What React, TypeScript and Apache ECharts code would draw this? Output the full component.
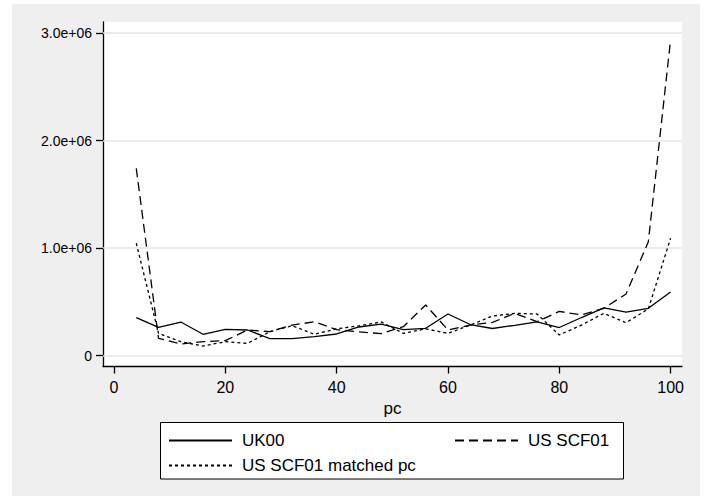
import React, { useEffect, useRef } from "react";
import * as echarts from "echarts";

const pc = [4, 8, 12, 16, 20, 24, 28, 32, 36, 40, 44, 48, 52, 56, 60, 64, 68, 72, 76, 80, 84, 88, 92, 96, 100];

const uk00 = [
  354000, 264000, 313000, 199000, 245000, 239000, 158000, 158000, 177000, 202000,
  267000, 293000, 242000, 255000, 388000, 290000, 253000, 283000, 315000, 262000,
  355000, 444000, 405000, 441000, 592000,
];

const usScf01 = [
  1743000, 162000, 108000, 130000, 140000, 239000, 223000, 285000, 315000, 242000,
  222000, 205000, 270000, 472000, 239000, 285000, 310000, 394000, 316000, 412000,
  379000, 441000, 574000, 1060000, 2937000,
];

const usScf01Matched = [
  1046000, 208000, 130000, 90000, 130000, 115000, 223000, 279000, 199000, 250000,
  278000, 314000, 208000, 250000, 208000, 285000, 369000, 394000, 388000, 193000,
  285000, 394000, 307000, 435000, 1092000,
];

const seriesNames = ["UK00", "US SCF01", "US SCF01 matched pc"];
const xTicks = [0, 20, 40, 60, 80, 100];
const yTicks = [0, 1000000, 2000000, 3000000];
const yTickLabels = ["0", "1.0e+06", "2.0e+06", "3.0e+06"];
const xTitle = "pc";

export default function App() {
  const ref = useRef<HTMLDivElement>(null);

  useEffect(() => {
    if (!ref.current) return;
    const chart = echarts.init(ref.current, null, { renderer: "svg" });
    const font = "'Liberation Sans', Arial, Helvetica, sans-serif";
    const pair = (ys: number[]) => pc.map((x, i) => [x, ys[i]]);
    const legendBase = {
      orient: "horizontal",
      padding: 0,
      itemWidth: 63,
      itemHeight: 14,
      selectedMode: false,
      itemStyle: { opacity: 0 },
      textStyle: { fontSize: 17, color: "#000", fontFamily: font, padding: [0, 0, 0, 5] },
    };
    const lineBase = {
      type: "line",
      symbol: "none",
      showSymbol: false,
      itemStyle: { color: "#000" },
      z: 3,
    };

    chart.setOption({
      animation: false,
      backgroundColor: "#ffffff",
      textStyle: { fontFamily: font },
      graphic: [
        {
          type: "rect",
          z: -10,
          silent: true,
          shape: { x: 12, y: 4, width: 688, height: 492 },
          style: { fill: "#efefef" },
        },
        {
          type: "rect",
          z: -9,
          silent: true,
          shape: { x: 103, y: 22, width: 579, height: 344.5 },
          style: { fill: "#ffffff" },
        },
        {
          type: "rect",
          z: -8,
          silent: true,
          shape: { x: 160.5, y: 422.5, width: 463, height: 56.5 },
          style: { fill: "#ffffff", stroke: "#000", lineWidth: 1 },
        },
      ],
      grid: { left: 103, right: 26, top: 22, bottom: 135.5, containLabel: false },
      xAxis: {
        type: "value",
        min: -1.976,
        max: 102.05,
        name: xTitle,
        nameLocation: "middle",
        nameGap: 30,
        nameTextStyle: { fontSize: 17, color: "#000", fontFamily: font },
        axisLine: { show: true, onZero: false, lineStyle: { color: "#000", width: 1.3 } },
        axisTick: {
          show: true,
          customValues: xTicks,
          length: 7,
          lineStyle: { color: "#000", width: 1.3 },
        },
        axisLabel: {
          customValues: xTicks,
          fontSize: 16,
          color: "#000",
          margin: 13,
          fontFamily: font,
        },
        splitLine: { show: false },
      },
      yAxis: {
        type: "value",
        min: -100500,
        max: 3104000,
        axisLine: { show: true, onZero: false, lineStyle: { color: "#000", width: 1.3 } },
        axisTick: {
          show: true,
          customValues: yTicks,
          length: 7,
          lineStyle: { color: "#000", width: 1.3 },
        },
        axisLabel: {
          customValues: yTicks,
          fontSize: 14,
          color: "#000",
          margin: 11,
          fontFamily: font,
          formatter: (v: number) => {
            const idx = yTicks.indexOf(v);
            return idx >= 0 ? yTickLabels[idx] : "";
          },
        },
        splitLine: { show: false },
      },
      legend: [
        { ...legendBase, data: [seriesNames[0]], left: 168, top: 432 },
        { ...legendBase, data: [seriesNames[1]], left: 454, top: 432 },
        { ...legendBase, data: [seriesNames[2]], left: 168, top: 457 },
      ],
      series: [
        {
          type: "line",
          data: [],
          silent: true,
          z: 1,
          markLine: {
            silent: true,
            z: 1,
            symbol: ["none", "none"],
            label: { show: false },
            lineStyle: { color: "#e6e6e6", width: 1.5, type: "solid" },
            data: yTicks.map((v) => ({ yAxis: v })),
          },
        },
        {
          ...lineBase,
          name: seriesNames[0],
          data: pair(uk00),
          lineStyle: { color: "#000", width: 1.3, type: "solid" },
        },
        {
          ...lineBase,
          name: seriesNames[1],
          data: pair(usScf01),
          lineStyle: { color: "#000", width: 1.3, type: [9, 5] },
        },
        {
          ...lineBase,
          name: seriesNames[2],
          data: pair(usScf01Matched),
          lineStyle: { color: "#000", width: 1.3, type: [3, 3] },
        },
      ],
    });

    return () => chart.dispose();
  }, []);

  return (
    <div
      ref={ref}
      style={{ position: "fixed", left: 0, top: 0, width: 708, height: 502 }}
    />
  );
}
